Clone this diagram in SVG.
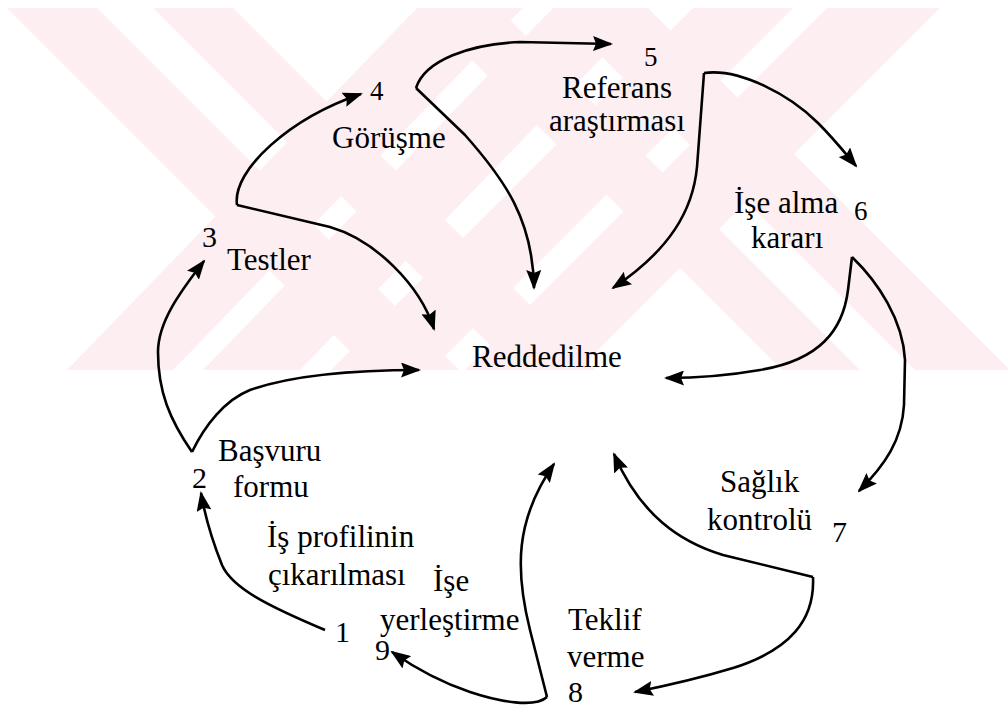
<svg xmlns="http://www.w3.org/2000/svg" width="1008" height="708" viewBox="0 0 1008 708">
<style>
.wm{fill:#fdeef1;stroke:none}
text{font-family:"Liberation Serif","Tinos","Times New Roman","DejaVu Serif",serif;fill:#000}
.lbl{font-size:31px}
.num{font-size:30px}
.num2{font-size:27px}
.con{fill:none;stroke:#000;stroke-width:2.6;marker-end:url(#ah)}
</style>
<defs>
<marker id="ah" viewBox="0 0 20 15" refX="18" refY="7.5" markerWidth="20" markerHeight="15" markerUnits="userSpaceOnUse" orient="auto">
<path d="M0,0 L20,7.5 L0,15 L3,7.5 z" fill="#000"/>
</marker>
</defs>
<rect width="1008" height="708" fill="#fff"/>
<g id="watermark">
<polygon class="wm" points="7,8 97,8 459,370 369,370"/>
<polygon class="wm" points="153,8 233,8 595,370 515,370"/>
<polygon class="wm" points="417,8 523,8 173,370 67,370"/>
<polygon class="wm" points="553,8 650,8 300,370 203,370"/>
<polygon class="wm" points="420,8 498,8 860,370 782,370"/>
<polygon class="wm" points="553,8 648,8 1010,370 915,370"/>
<polygon class="wm" points="693,8 793,8 431,370 331,370"/>
<polygon class="wm" points="827,8 940,8 578,370 465,370"/>
</g>
<g id="connectors">
<path class="con" d="M325,630 C268,606 232,588 222,565 C214,545 206,522 201,493"/>
<path class="con" d="M192,452 C170,420 158,392 158,352 C158,322 180,292 204,261"/>
<path class="con" d="M192,452 C205,425 225,400 250,390 C290,376 350,370 419,370"/>
<path class="con" d="M237,205 C232,170 290,118 361,94"/>
<path class="con" d="M237,205 L330,227 C375,240 420,285 434,329"/>
<path class="con" d="M416,88 C425,60 470,44 520,42 L611,44"/>
<path class="con" d="M416,88 L465,135 C505,180 533,220 534,288"/>
<path class="con" d="M704,73 C740,68 790,95 818,123 C835,140 845,153 856,166"/>
<path class="con" d="M704,73 L697,167 C693,210 670,250 613,288"/>
<path class="con" d="M852,257 L848,290 C843,330 820,360 760,370 C720,377 690,378 666,378"/>
<path class="con" d="M852,257 C878,282 903,320 905,360 L904,405 C902,440 885,465 859,491"/>
<path class="con" d="M813,577 L723,555 C680,542 640,515 614,454"/>
<path class="con" d="M813,577 C815,620 790,650 733,668 C700,678 670,685 635,692"/>
<path class="con" d="M547,697 L530,630 C515,570 515,520 554,464"/>
<path class="con" d="M547,697 C535,708 500,702 470,692 C440,682 415,668 392,652"/>
</g>
<g id="node-reddedilme"><text class="lbl" x="472" y="367">Reddedilme</text></g>
<g id="node-1"><text class="num" x="335" y="642">1</text><text class="lbl" x="267" y="547">İş profilinin</text><text class="lbl" x="268" y="585">çıkarılması</text></g>
<g id="node-2"><text class="num" x="192" y="488">2</text><text class="lbl" x="218" y="461">Başvuru</text><text class="lbl" x="233" y="497">formu</text></g>
<g id="node-3"><text class="num" x="202" y="247">3</text><text class="lbl" x="227" y="270">Testler</text></g>
<g id="node-4"><text class="num2" x="370" y="100">4</text><text class="lbl" x="332" y="148">Görüşme</text></g>
<g id="node-5"><text class="num2" x="644" y="66">5</text><text class="lbl" x="562" y="98">Referans</text><text class="lbl" x="549" y="131">araştırması</text></g>
<g id="node-6"><text class="lbl" x="734" y="213">İşe alma</text><text class="num2" x="854" y="220">6</text><text class="lbl" x="751" y="248">kararı</text></g>
<g id="node-7"><text class="lbl" x="720" y="492">Sağlık</text><text class="lbl" x="707" y="530">kontrolü</text><text class="num" x="832" y="542">7</text></g>
<g id="node-8"><text class="lbl" x="568" y="630">Teklif</text><text class="lbl" x="567" y="667">verme</text><text class="num" x="568" y="702">8</text></g>
<g id="node-9"><text class="lbl" x="433" y="591">İşe</text><text class="lbl" x="380" y="630">yerleştirme</text><text class="num" x="375" y="660">9</text></g>
</svg>
